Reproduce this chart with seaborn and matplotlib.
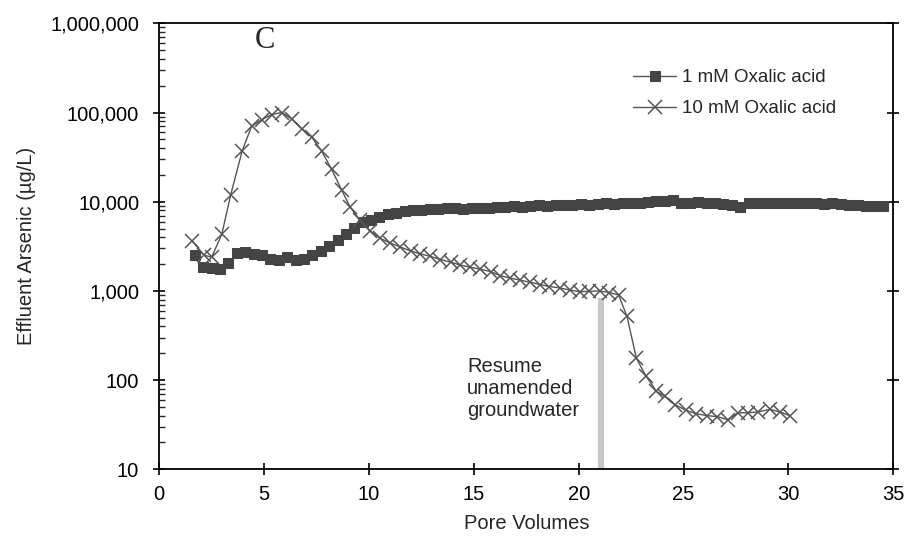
import numpy as np
import pandas as pd
import matplotlib
matplotlib.use("Agg")
import matplotlib.pyplot as plt
from matplotlib.ticker import FuncFormatter, LogLocator, NullFormatter
import seaborn as sns

# ---- data ----
pv_1mM = [1.7, 2.1, 2.5, 2.9, 3.3, 3.7, 4.1, 4.5, 4.9, 5.3, 5.7, 6.1, 6.5, 6.9, 7.3, 7.7,
          8.1, 8.5, 8.9, 9.3, 9.7, 10.1, 10.5, 10.9, 11.3, 11.7, 12.1, 12.5, 12.9, 13.3,
          13.7, 14.1, 14.5, 14.9, 15.3, 15.7, 16.1, 16.5, 16.9, 17.3, 17.7, 18.1, 18.5,
          18.9, 19.3, 19.7, 20.1, 20.5, 20.9, 21.3, 21.7, 22.1, 22.5, 22.9, 23.3, 23.7,
          24.1, 24.5, 24.9, 25.3, 25.7, 26.1, 26.5, 26.9, 27.3, 27.7, 28.1, 28.5, 28.9,
          29.3, 29.7, 30.1, 30.5, 30.9, 31.3, 31.7, 32.1, 32.5, 32.9, 33.3, 33.7, 34.1, 34.5]
as_1mM = [2500, 1850, 1800, 1750, 2050, 2650, 2700, 2600, 2500, 2300, 2200, 2400, 2200, 2300,
          2500, 2800, 3200, 3700, 4300, 5100, 5900, 6300, 6700, 7200, 7500, 7800, 8000, 8100,
          8300, 8200, 8400, 8500, 8300, 8500, 8600, 8500, 8700, 8800, 8900, 8800, 9000, 9100,
          9000, 9200, 9300, 9200, 9400, 9300, 9500, 9600, 9500, 9700, 9600, 9700, 9900, 10100,
          10300, 10400, 9700, 9800, 9900, 9700, 9600, 9500, 9300, 8800, 9600, 9700, 9600, 9700,
          9800, 9700, 9600, 9700, 9600, 9500, 9600, 9400, 9300, 9200, 9000, 8900, 8900]

pv_10mM = [1.55, 2.15, 2.5, 2.98, 3.4, 3.95, 4.4, 4.88, 5.36, 5.84, 6.31, 6.79, 7.27, 7.74,
           8.22, 8.70, 9.1, 9.57, 10.05, 10.53, 11.0, 11.5, 12.0, 12.45, 12.9, 13.4, 13.9,
           14.35, 14.8, 15.3, 15.8, 16.25, 16.7, 17.2, 17.7, 18.15, 18.6, 19.1, 19.6, 20.05,
           20.5, 21.0, 21.45, 21.9, 22.3, 22.75, 23.2, 23.7, 24.1, 24.6, 25.1, 25.6, 26.1,
           26.6, 27.1, 27.6, 28.05, 28.55, 29.1, 29.6, 30.05]
as_10mM = [3670, 2500, 2400, 4300, 11800, 37000, 70000, 83000, 95000, 100000, 85000, 66000,
           53000, 37000, 23000, 13500, 8700, 6200, 4700, 3900, 3450, 3100, 2800, 2600, 2450,
           2250, 2100, 1950, 1850, 1750, 1650, 1480, 1400, 1320, 1250, 1180, 1120, 1080, 1020,
           980, 990, 1000, 960, 900, 520, 175, 112, 75, 66, 53, 46, 42, 40, 39, 36, 43, 43,
           44, 47, 44, 40]

series_labels = ["1 mM Oxalic acid", "10 mM Oxalic acid"]
x_ticks = [0, 5, 10, 15, 20, 25, 30, 35]
y_ticks = [10, 100, 1000, 10000, 100000, 1000000]
resume_pv = 21.06
resume_top = 830
annotation = "Resume\nunamended\ngroundwater"
panel_letter = "C"

# ---- plot ----
sns.set_style("white")
plt.rcParams["font.family"] = ["Liberation Sans", "DejaVu Sans"]

fig = plt.figure(figsize=(9.06, 5.36), dpi=100)
ax = fig.add_axes([0.1758, 0.1244, 0.986 - 0.1758, 0.9565 - 0.1244])

df1 = pd.DataFrame({"pv": pv_1mM, "as": as_1mM})
df2 = pd.DataFrame({"pv": pv_10mM, "as": as_10mM})

ax.plot([resume_pv, resume_pv], [10, resume_top], color="#c8c8c8", lw=4.5,
        solid_capstyle="butt", zorder=1)

sns.lineplot(data=df1, x="pv", y="as", ax=ax, color="#555555", lw=1.0,
             marker="s", markersize=7, markerfacecolor="#444444",
             markeredgecolor="#444444", label=series_labels[0], zorder=3)
sns.lineplot(data=df2, x="pv", y="as", ax=ax, color="#555555", lw=1.0,
             marker="x", markersize=9.5, markeredgewidth=1.1, markeredgecolor="#555555",
             label=series_labels[1], zorder=4)

ax.set_yscale("log")
ax.set_xlim(0, 35)
ax.set_ylim(10, 1000000)
ax.set_xticks(x_ticks)
ax.set_yticks(y_ticks)
ax.yaxis.set_major_formatter(FuncFormatter(lambda v, _: f"{int(round(v)):,}"))
ax.yaxis.set_minor_locator(LogLocator(base=10, subs=np.arange(2, 10), numticks=20))
ax.yaxis.set_minor_formatter(NullFormatter())

for s in ax.spines.values():
    s.set_color("black")
    s.set_linewidth(1.3)

ax.tick_params(axis="both", which="major", direction="inout", length=9, width=1.2,
               colors="black", labelsize=14.5)
ax.tick_params(axis="y", which="major", left=True, right=True, pad=10)
ax.tick_params(axis="x", which="major", bottom=True, top=False, pad=7)
ax.tick_params(axis="y", which="minor", direction="in", length=4, width=1.0,
               left=True, right=False)

ax.set_xlabel("Pore Volumes", fontsize=14.5, labelpad=7)
ax.set_ylabel("Effluent Arsenic (µg/L)", fontsize=14.5, labelpad=10)

ax.text(5.04, 650000, panel_letter, fontsize=22, family=["Liberation Serif", "DejaVu Serif"],
        ha="center", va="center")
ax.text(14.67, 81, annotation, fontsize=14.5, ha="left", va="center", linespacing=1.2)

leg = ax.legend(loc="upper right", bbox_to_anchor=(0.945, 0.935), frameon=False,
                fontsize=13.5, handlelength=2.3, handletextpad=0.3, labelspacing=0.75)

fig.savefig("out.png", dpi=100)
